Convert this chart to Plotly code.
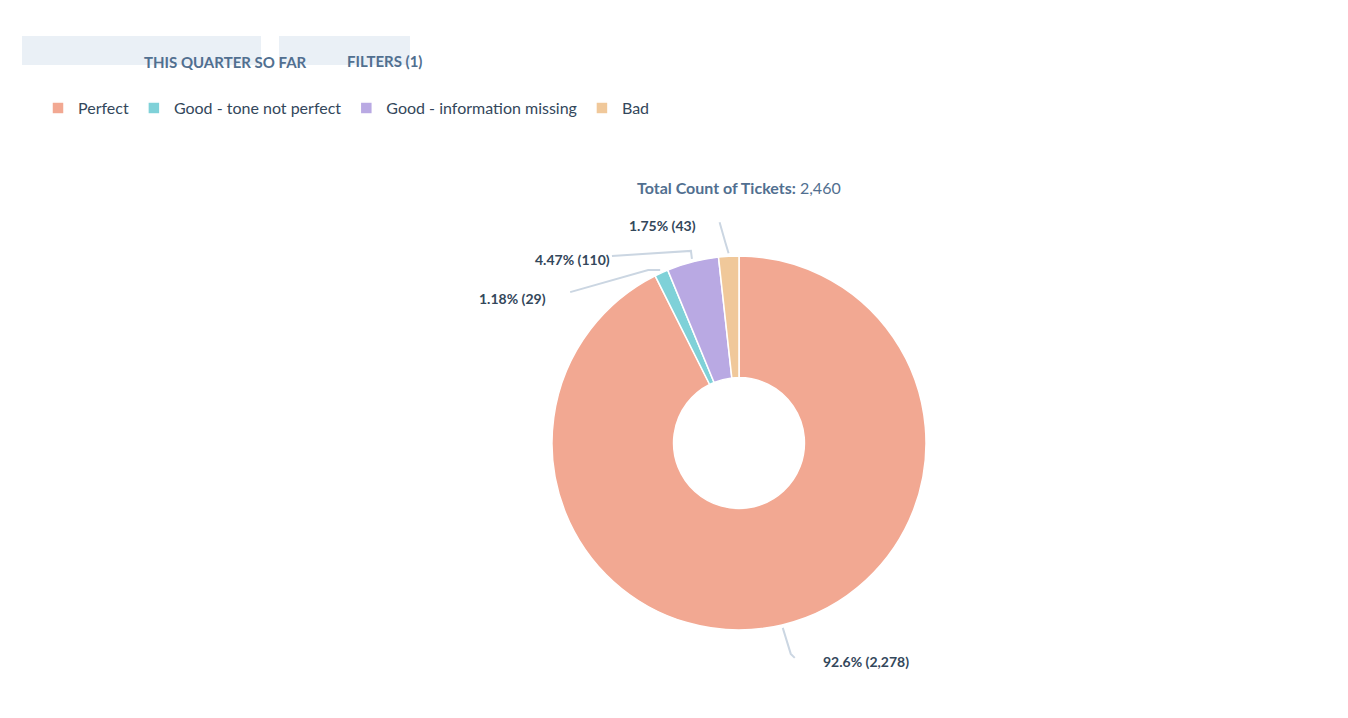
import plotly.graph_objects as go
import math

labels = ["Perfect", "Good - tone not perfect", "Good - information missing", "Bad"]
values = [2278, 29, 110, 43]
pcts = ["92.6%", "1.18%", "4.47%", "1.75%"]
colors = ["#f2a892", "#7fd1d8", "#b9a9e3", "#f0c89a"]

W, H = 1348, 718
CX, CY, R = 731, 435, 187
FONT = "Lato, Noto Sans, sans-serif"
TXT = "#33475b"

def px(x): return x / W
def py(y): return 1 - y / H

fig = go.Figure(go.Pie(
    labels=labels, values=values, marker=dict(colors=colors, line=dict(color="white", width=1.5)),
    hole=0.35, sort=False, direction="clockwise", rotation=0, textinfo="none",
    hoverinfo="label+value+percent",
    domain=dict(x=[px(CX - R), px(CX + R)], y=[py(CY + R), py(CY - R)]),
))

# leader lines + labels (anchor computed from data angles)
total = sum(values)
# per-slice: (elbow dx, dy, end dx, dy) relative to edge point, label anchor side
offs = [((8, 26), (12, 30), "left"),
        ((-12, 0), (-90, 22), "right"),
        ((-1, -8), (-80, -3), "right"),
        ((-3, -10), (-9, -31), "right")]
label_shift = [(26, 4), (-22, 6), (0, 4), (-22, 3)]
shapes, ann = [], []
cum = 0
for i, v in enumerate(values):
    mid = (cum + v / 2) / total * 2 * math.pi
    cum += v
    ex, ey = CX + (R + 3) * math.sin(mid), CY - (R + 3) * math.cos(mid)
    (d1x, d1y), (d2x, d2y), side = offs[i]
    pts = [(ex, ey), (ex + d1x, ey + d1y), (ex + d2x, ey + d2y)]
    path = "M " + " L ".join(f"{px(a)},{py(b)}" for a, b in pts)
    shapes.append(dict(type="path", xref="paper", yref="paper", path=path,
                       line=dict(color="#cbd6e2", width=2)))
    lx, ly = pts[-1][0] + label_shift[i][0], pts[-1][1] + label_shift[i][1]
    ann.append(dict(x=px(lx), y=py(ly), xref="paper", yref="paper", showarrow=False,
                    xanchor=side, yanchor="middle",
                    text=f"<b>{pcts[i]} ({v:,})</b>", font=dict(size=14, color=TXT, family=FONT)))

ann.append(dict(x=px(731), y=py(168), xref="paper", yref="paper", showarrow=False,
                text=f"<b>Total Count of Tickets:</b> {total:,}",
                font=dict(size=16, color="#516f90", family=FONT)))

for (x0, x1, t) in [(14, 253, "THIS QUARTER SO FAR"), (271, 402, "FILTERS (1)")]:
    shapes.append(dict(type="rect", xref="paper", yref="paper", x0=px(x0), x1=px(x1),
                       y0=py(57), y1=py(28), fillcolor="#eaf0f6", line=dict(width=0), layer="below"))
    ann.append(dict(x=px((x0 + x1) / 2), y=py(42.5), xref="paper", yref="paper", showarrow=False,
                    text=f"<b>{t}</b>", font=dict(size=15, color="#516f90", family=FONT)))

fig.update_layout(
    width=W, height=H, margin=dict(l=0, r=0, t=0, b=0),
    paper_bgcolor="white", plot_bgcolor="white",
    shapes=shapes, annotations=ann,
    showlegend=True,
    legend=dict(orientation="h", x=px(30), y=py(100), xanchor="left", yanchor="middle",
                font=dict(size=16, color=TXT, family=FONT), traceorder="normal", itemwidth=30),
)
fig.write_html("out.html")
